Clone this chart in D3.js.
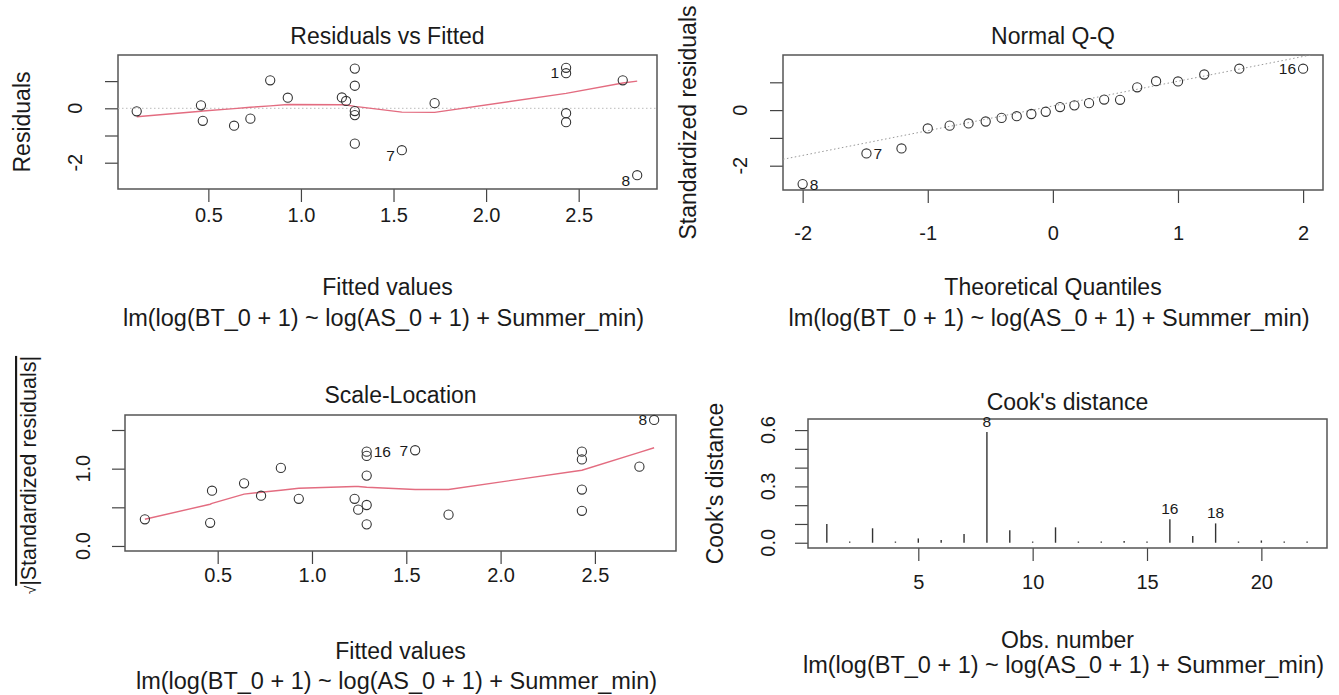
<!DOCTYPE html>
<html>
<head>
<meta charset="utf-8">
<script src="https://cdn.jsdelivr.net/npm/d3@7"></script>
<style>
  body { margin: 0; background: #fff; }
  svg text { font-family: "Liberation Sans", Arial, sans-serif; fill: #1a1a1a; }
  .axis path.domain { display: none; }
  .axis line { stroke: #444; stroke-width: 1.2; }
  .box { fill: none; stroke: #555; stroke-width: 1.5; }
  .pt { fill: none; stroke: #333; stroke-width: 1.1; }
  .smooth { fill: none; stroke: #E36C80; stroke-width: 1.4; }
  .ref { fill: none; stroke: #999; stroke-width: 1; stroke-dasharray: 1.5,2.5; }
  .cook { stroke: #333; stroke-width: 1.4; }
</style>
</head>
<body>
<svg id="chart" width="1339" height="695"></svg>
<script>

      var modelCaption = "lm(log(BT_0 + 1) ~ log(AS_0 + 1) + Summer_min)";

      ////// Residuals vs Fitted //////
      var residFitted = [0.113, 0.46, 0.47, 0.639, 0.727, 0.834, 0.929, 1.221, 1.244, 1.291, 1.291, 1.291, 1.291, 1.291, 1.545, 1.722, 2.432, 2.432, 2.432, 2.432, 2.738, 2.816];
      var residValues = [-0.11, 0.11, -0.46, -0.64, -0.38, 1.03, 0.39, 0.40, 0.27, 1.46, 0.83, -0.10, -0.25, -1.30, -1.54, 0.19, 1.49, 1.29, -0.18, -0.51, 1.03, -2.46];
      var residLabelIdx = [14, 16, 21];
      var residLabelText = ["7", "1", "8"];
      var residSmoothX = [0.113, 0.46, 0.47, 0.639, 0.727, 0.834, 0.929, 1.221, 1.244, 1.291, 1.545, 1.722, 2.432, 2.738, 2.816];
      var residSmoothY = [-0.31, -0.11, -0.10, -0.01, 0.04, 0.09, 0.14, 0.13, 0.12, 0.07, -0.14, -0.15, 0.55, 0.93, 1.0];
      var residXTicks = [0.5, 1.0, 1.5, 2.0, 2.5];
      var residYTicks = [-2, -1, 0, 1];
      var residYTickLabels = [-2, 0];

      ////// Normal Q-Q //////
      var qqTheo = [-2.00, -1.49, -1.21, -1.00, -0.825, -0.674, -0.537, -0.410, -0.289, -0.172, -0.057, 0.057, 0.172, 0.289, 0.410, 0.537, 0.674, 0.825, 1.00, 1.21, 1.49, 2.00];
      var qqStd = [-2.66, -1.56, -1.38, -0.66, -0.56, -0.48, -0.41, -0.28, -0.22, -0.14, -0.06, 0.11, 0.17, 0.25, 0.38, 0.37, 0.82, 1.04, 1.03, 1.28, 1.49, 1.49];
      var qqLabelIdx = [0, 1, 21];
      var qqLabelText = ["8", "7", "16"];
      var qqLineX = [-2.157, 2.159];
      var qqLineY = [-1.77, 2.07];
      var qqXTicks = [-2, -1, 0, 1, 2];
      var qqYTicks = [-2, -1, 0, 1];
      var qqYTickLabels = [-2, 0];

      ////// Scale-Location //////
      var slFitted = [0.114, 0.47, 0.46, 0.64, 0.73, 0.835, 0.93, 1.226, 1.245, 1.29, 1.29, 1.29, 1.29, 1.29, 1.547, 1.724, 2.431, 2.431, 2.431, 2.431, 2.736, 2.814];
      var slValues = [0.345, 0.715, 0.30, 0.81, 0.65, 1.01, 0.61, 0.61, 0.47, 1.22, 1.165, 0.91, 0.53, 0.28, 1.238, 0.405, 1.22, 1.12, 0.73, 0.455, 1.026, 1.63];
      var slLabelIdx = [9, 14, 21];
      var slLabelText = ["16", "7", "8"];
      var slSmoothX = [0.114, 0.46, 0.47, 0.64, 0.73, 0.835, 0.93, 1.226, 1.245, 1.29, 1.547, 1.724, 2.431, 2.736, 2.814];
      var slSmoothY = [0.345, 0.54, 0.55, 0.67, 0.695, 0.72, 0.746, 0.77, 0.77, 0.76, 0.73, 0.73, 0.98, 1.21, 1.27];
      var slXTicks = [0.5, 1.0, 1.5, 2.0, 2.5];
      var slYTicks = [0, 0.5, 1.0, 1.5];
      var slYTickLabels = [0, 1.0];

      ////// Cook's distance //////
      var cookObs = [1, 2, 3, 4, 5, 6, 7, 8, 9, 10, 11, 12, 13, 14, 15, 16, 17, 18, 19, 20, 21, 22];
      var cookVals = [0.10, 0.003, 0.077, 0.002, 0.023, 0.014, 0.046, 0.59, 0.066, 0.004, 0.082, 0.004, 0.004, 0.009, 0.004, 0.125, 0.036, 0.103, 0.004, 0.012, 0.003, 0.003];
      var cookLabelObs = [8, 16, 18];
      var cookXTicks = [5, 10, 15, 20];
      var cookYTicks = [0, 0.1, 0.2, 0.3, 0.4, 0.5, 0.6];
      var cookYTickLabels = [0, 0.3, 0.6];


      var svg = d3.select("#chart");

      var labelSize = 23, tickSize = 20, idSize = 15.5;

      // builds box, axes and texts of one panel; returns scales and group
      function makePanel(o) {
          var g = svg.append("g");

          var x = d3.scaleLinear().domain(o.xDomain).range([o.left, o.right]);
          var y = d3.scaleLinear().domain(o.yDomain).range([o.bottom, o.top]);

          g.append("clipPath").attr("id", o.id + "-clip")
            .append("rect")
            .attr("x", o.left).attr("y", o.top)
            .attr("width", o.right - o.left).attr("height", o.bottom - o.top);

          var xAxis = d3.axisBottom(x).tickValues(o.xTicks).tickSize(13)
              .tickPadding(o.xTickY - o.bottom - 13 - 7)
              .tickFormat(o.xFormat);
          var ax = g.append("g")
              .attr("class", "axis")
              .attr("transform", "translate(0," + o.bottom + ")")
              .call(xAxis);
          ax.attr("font-size", null).attr("font-family", null);
          ax.selectAll("text").style("font-size", tickSize + "px").attr("fill", "#1a1a1a");

          var yAxis = d3.axisLeft(y).tickValues(o.yTicks).tickSize(13).tickFormat("");
          g.append("g")
              .attr("class", "axis")
              .attr("transform", "translate(" + o.left + ",0)")
              .call(yAxis);

          // R style rotated tick labels
          g.selectAll(null)
              .data(o.yTickLabels)
              .enter()
              .append("text")
              .attr("transform", function(d) {
                  return "translate(" + (o.yTickX + 7) + "," + y(d) + ") rotate(-90)";
              })
              .attr("text-anchor", "middle")
              .style("font-size", tickSize + "px")
              .text(o.yFormat);

          g.append("rect").attr("class", "box")
            .attr("x", o.left).attr("y", o.top)
            .attr("width", o.right - o.left).attr("height", o.bottom - o.top);

          var cx = (o.left + o.right) / 2;
          g.append("text").attr("x", cx).attr("y", o.titleY + 8)
            .attr("text-anchor", "middle").style("font-size", labelSize + "px").text(o.title);
          g.append("text").attr("x", cx).attr("y", o.xLabelY + 8)
            .attr("text-anchor", "middle").style("font-size", labelSize + "px").text(o.xLabel);
          g.append("text").attr("x", cx - 4).attr("y", o.subY + 8)
            .attr("text-anchor", "middle").style("font-size", (labelSize + 0.5) + "px").text(modelCaption);

          var cy = (o.top + o.bottom) / 2;
          var yl = g.append("text")
            .attr("text-anchor", "middle").style("font-size", labelSize + "px");
          if (o.sqrtLabel) {
              // sqrt label is a bit smaller and sits higher
              yl.attr("transform", "translate(" + (o.yLabelX + 8) + "," + (cy - 8) + ") rotate(-90)")
                .style("font-size", (labelSize - 1.5) + "px");
              yl.append("tspan").style("font-size", "15px").text("\u221A");
              yl.append("tspan").attr("text-decoration", "overline").text("|" + o.yLabel + "|");
          } else {
              yl.attr("transform", "translate(" + (o.yLabelX + 8) + "," + cy + ") rotate(-90)")
                .text(o.yLabel);
          }

          return {g: g, x: x, y: y, clip: "url(#" + o.id + "-clip)"};
      }

      function fmt1(d) { return d3.format(".1f")(d); }
      function fmt0(d) { return String(d); }

      function drawPoints(p, xs, ys) {
          p.g.append("g")
              .selectAll("circle")
              .data(xs)
              .enter()
              .append("circle")
              .attr("class", "pt")
              .attr("cx", function(d) { return p.x(d); })
              .attr("cy", function(d, i) { return p.y(ys[i]); })
              .attr("r", 4.6);
      }

      function drawIds(p, xs, ys, idx, texts, mid, dy) {
          idx.forEach(function(k, j) {
              var right = xs[k] > mid;
              p.g.append("text")
                .attr("x", p.x(xs[k]) + (right ? -7 : 7))
                .attr("y", p.y(ys[k]) + 5.5 + dy)
                .attr("text-anchor", right ? "end" : "start")
                .style("font-size", idSize + "px")
                .text(texts[j]);
          });
      }

      var smoothLine = function(p) {
          return d3.line().x(function(d) { return p.x(d[0]); }).y(function(d) { return p.y(d[1]); });
      };

      // panel 1
      var p1 = makePanel({
          id: "p1", left: 118, right: 657, top: 55, bottom: 189,
          xDomain: [0.012, 2.923], yDomain: [-2.967, 1.96],
          xTicks: residXTicks, yTicks: residYTicks, yTickLabels: residYTickLabels,
          xFormat: fmt1, yFormat: fmt0,
          title: "Residuals vs Fitted", titleY: 36,
          xLabel: "Fitted values", xLabelY: 287, subY: 318, xTickY: 215,
          yLabel: "Residuals", yLabelX: 22, yTickX: 75
      });
      p1.g.append("line").attr("class", "ref").style("stroke", "#bbb")
        .attr("x1", p1.x(p1.x.domain()[0])).attr("x2", p1.x(p1.x.domain()[1]))
        .attr("y1", p1.y(0)).attr("y2", p1.y(0));
      p1.g.append("path").attr("class", "smooth").attr("clip-path", p1.clip)
        .attr("d", smoothLine(p1)(d3.zip(residSmoothX, residSmoothY)));
      drawPoints(p1, residFitted, residValues);
      drawIds(p1, residFitted, residValues, residLabelIdx, residLabelText, 1.46, 5);

      // panel 2
      var p2 = makePanel({
          id: "p2", left: 783, right: 1323, top: 55, bottom: 190,
          xDomain: [-2.157, 2.159], yDomain: [-2.874, 1.982],
          xTicks: qqXTicks, yTicks: qqYTicks, yTickLabels: qqYTickLabels,
          xFormat: fmt0, yFormat: fmt0,
          title: "Normal Q-Q", titleY: 36,
          xLabel: "Theoretical Quantiles", xLabelY: 287, subY: 318, xTickY: 233,
          yLabel: "Standardized residuals", yLabelX: 688, yTickX: 740
      });
      p2.g.append("path").attr("class", "ref").attr("clip-path", p2.clip)
        .attr("d", smoothLine(p2)(d3.zip(qqLineX, qqLineY)));
      drawPoints(p2, qqTheo, qqStd);
      drawIds(p2, qqTheo, qqStd, qqLabelIdx, qqLabelText, 0, 0);

      // panel 3
      var p3 = makePanel({
          id: "p3", left: 125, right: 676, top: 415, bottom: 551,
          xDomain: [0.0086, 2.930], yDomain: [-0.065, 1.694],
          xTicks: slXTicks, yTicks: slYTicks, yTickLabels: slYTickLabels,
          xFormat: fmt1, yFormat: fmt1,
          title: "Scale-Location", titleY: 395,
          xLabel: "Fitted values", xLabelY: 651, subY: 681, xTickY: 575,
          yLabel: "Standardized residuals", yLabelX: 28, yTickX: 83, sqrtLabel: true
      });
      p3.g.append("path").attr("class", "smooth").attr("clip-path", p3.clip)
        .attr("d", smoothLine(p3)(d3.zip(slSmoothX, slSmoothY)));
      drawPoints(p3, slFitted, slValues);
      drawIds(p3, slFitted, slValues, slLabelIdx, slLabelText, 1.46, 0);

      // panel 4
      var p4 = makePanel({
          id: "p4", left: 808, right: 1327, top: 419, bottom: 548,
          xDomain: [0.177, 22.87], yDomain: [-0.028, 0.659],
          xTicks: cookXTicks, yTicks: cookYTicks, yTickLabels: cookYTickLabels,
          xFormat: fmt0, yFormat: fmt1,
          title: "Cook's distance", titleY: 402,
          xLabel: "Obs. number", xLabelY: 640, subY: 665, xTickY: 582,
          yLabel: "Cook's distance", yLabelX: 715, yTickX: 768
      });
      p4.g.append("g")
          .selectAll("line")
          .data(cookObs)
          .enter()
          .append("line")
          .attr("class", "cook")
          .attr("x1", function(d) { return p4.x(d); })
          .attr("x2", function(d) { return p4.x(d); })
          .attr("y1", p4.y(0))
          .attr("y2", function(d, i) { return Math.min(p4.y(cookVals[i]), p4.y(0) - 1.2); });
      p4.g.selectAll(null)
          .data(cookLabelObs)
          .enter()
          .append("text")
          .attr("x", function(d) { return p4.x(d); })
          .attr("y", function(d) { return p4.y(cookVals[d - 1]) - 5; })
          .attr("text-anchor", "middle")
          .style("font-size", idSize + "px")
          .text(function(d) { return d; });

</script>
</body>
</html>
